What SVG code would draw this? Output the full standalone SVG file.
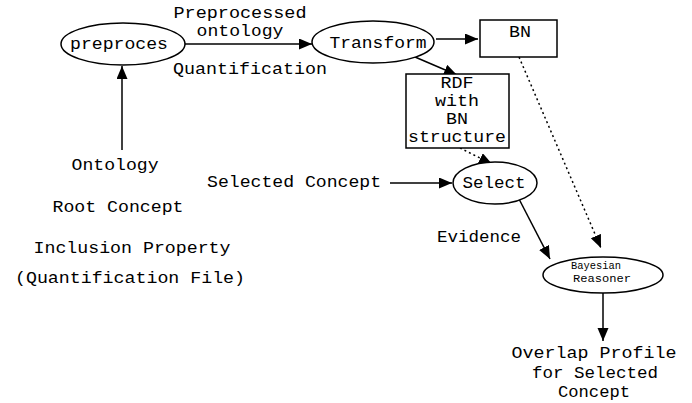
<svg xmlns="http://www.w3.org/2000/svg" width="692" height="403" viewBox="0 0 692 403">
<style>
.t{font-family:"Liberation Mono","Courier New",monospace;font-size:16px;fill:#000;text-anchor:middle}
.s{font-family:"Liberation Mono","Courier New",monospace;font-size:10px;fill:#000;text-anchor:middle}
.n{fill:#fff;stroke:#000;stroke-width:1.5}
.c{stroke:#000;stroke-width:1.5;fill:none}
.d{stroke:#000;stroke-width:1.5;fill:none;stroke-dasharray:2,3}
</style>
<defs>
<marker id="ah" markerUnits="userSpaceOnUse" markerWidth="14" markerHeight="12" refX="13" refY="5.5" orient="auto">
<path d="M0,0 L13,5.5 L0,11 Z" fill="#000"/>
</marker>
</defs>
<rect width="692" height="403" fill="#fff"/>
<g id="connectors">
<line class="c" x1="185" y1="44" x2="312" y2="44" marker-end="url(#ah)"/>
<line class="c" x1="436" y1="39" x2="478" y2="39" marker-end="url(#ah)"/>
<line class="c" x1="415" y1="57" x2="457" y2="75" marker-end="url(#ah)"/>
<line class="c" x1="122" y1="150" x2="122" y2="66" marker-end="url(#ah)"/>
<line class="d" x1="460" y1="148" x2="492" y2="164" marker-end="url(#ah)"/>
<line class="d" x1="519" y1="57" x2="601" y2="248" marker-end="url(#ah)"/>
<line class="c" x1="390" y1="183" x2="452" y2="183" marker-end="url(#ah)"/>
<line class="c" x1="519" y1="199" x2="550" y2="259" marker-end="url(#ah)"/>
<line class="c" x1="603" y1="293" x2="603" y2="341" marker-end="url(#ah)"/>
</g>
<g id="preproces">
<ellipse class="n" cx="123" cy="44" rx="62" ry="21"/>
<text class="t" x="119" y="49" textLength="98" lengthAdjust="spacingAndGlyphs">preproces</text>
</g>
<g id="transform">
<ellipse class="n" cx="373" cy="42" rx="61" ry="21"/>
<text class="t" x="378" y="48" textLength="97" lengthAdjust="spacingAndGlyphs">Transform</text>
</g>
<g id="bn">
<rect class="n" x="480" y="20" width="77" height="37"/>
<text class="t" x="520" y="37" textLength="22" lengthAdjust="spacingAndGlyphs">BN</text>
</g>
<g id="rdf">
<rect class="n" x="406" y="74" width="103" height="74"/>
<text class="t" x="457" y="88" textLength="33" lengthAdjust="spacingAndGlyphs">RDF</text>
<text class="t" x="457" y="106" textLength="44" lengthAdjust="spacingAndGlyphs">with</text>
<text class="t" x="457" y="124" textLength="22" lengthAdjust="spacingAndGlyphs">BN</text>
<text class="t" x="457" y="142" textLength="98" lengthAdjust="spacingAndGlyphs">structure</text>
</g>
<g id="select">
<ellipse class="n" cx="495" cy="183" rx="42" ry="21"/>
<text class="t" x="494" y="188" textLength="63" lengthAdjust="spacingAndGlyphs">Select</text>
</g>
<g id="bayesian">
<ellipse class="n" cx="603" cy="275" rx="60" ry="18"/>
<text class="s" x="596" y="269" textLength="50" lengthAdjust="spacingAndGlyphs">Bayesian</text>
<text class="s" x="602" y="282" textLength="58" lengthAdjust="spacingAndGlyphs">Reasoner</text>
</g>
<g id="labels">
<text class="t" x="240" y="17.5" textLength="133" lengthAdjust="spacingAndGlyphs">Preprocessed</text>
<text class="t" x="240" y="36" textLength="87" lengthAdjust="spacingAndGlyphs">ontology</text>
<text class="t" x="250" y="74" textLength="154" lengthAdjust="spacingAndGlyphs">Quantification</text>
<text class="t" x="294" y="187" textLength="174" lengthAdjust="spacingAndGlyphs">Selected Concept</text>
<text class="t" x="479" y="242" textLength="84" lengthAdjust="spacingAndGlyphs">Evidence</text>
<text class="t" x="115" y="170" textLength="87" lengthAdjust="spacingAndGlyphs">Ontology</text>
<text class="t" x="118" y="212" textLength="131" lengthAdjust="spacingAndGlyphs">Root Concept</text>
<text class="t" x="132" y="253" textLength="197" lengthAdjust="spacingAndGlyphs">Inclusion Property</text>
<text class="t" x="130" y="283" textLength="230" lengthAdjust="spacingAndGlyphs">(Quantification File)</text>
<text class="t" x="594" y="358" textLength="165" lengthAdjust="spacingAndGlyphs">Overlap Profile</text>
<text class="t" x="595" y="378" textLength="126" lengthAdjust="spacingAndGlyphs">for Selected</text>
<text class="t" x="594" y="397" textLength="72" lengthAdjust="spacingAndGlyphs">Concept</text>
</g>
</svg>
